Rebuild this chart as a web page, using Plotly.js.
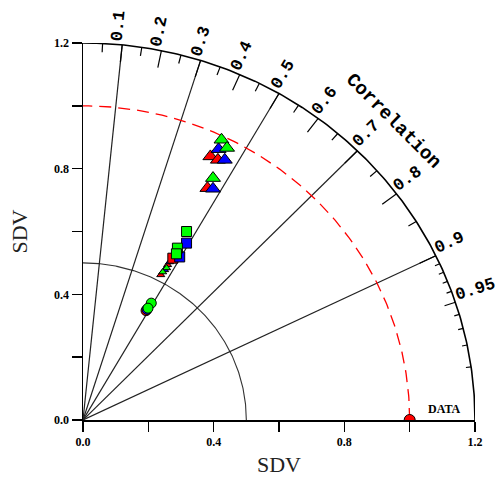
<!DOCTYPE html>
<html><head><meta charset="utf-8">
<script src="https://cdn.plot.ly/plotly-3.0.1.min.js"></script>
<style>html,body{margin:0;padding:0;background:#fff}#chart{width:500px;height:482px}</style>
</head><body><div id="chart"></div>
<script>
// ---- axis / tick data ----
const sdTickVals = [0, 0.2, 0.4, 0.6, 0.8, 1.0, 1.2];
const sdTickText = ['0.0', '', '0.4', '', '0.8', '', '1.2'];
const corrLabelVals = [0.1, 0.2, 0.3, 0.4, 0.5, 0.6, 0.7, 0.8, 0.9, 0.95];
const corrLabelText = ['0.1', '0.2', '0.3', '0.4', '0.5', '0.6', '0.7', '0.8', '0.9', '0.95'];
const corrRadialLines = [0.1, 0.3, 0.5, 0.7, 0.9];
const corrMajorTicks = [0.1, 0.2, 0.3, 0.4, 0.5, 0.6, 0.7, 0.8, 0.9];
const corrMinorTicks = [0.05, 0.15, 0.25, 0.35, 0.45, 0.55, 0.65, 0.75, 0.85];
const corrFineTicks = [0.91, 0.92, 0.93, 0.94, 0.96, 0.97, 0.98, 0.99];
const corrMidTicks = [0.95];
const sdMax = 1.2;
const refSD = 1.0;
const innerSD = 0.5;
const refPointX = [1.0];
const refPointY = [0.0];
const refLabel = 'DATA';
const corrTitle = 'Correlation';
const corrTitleR = 1.345;
const corrTitleCorr = 0.706;

// ---- model points (x = SD*cos, y = SD*sin) ----
const triRedX = [0.390, 0.413, 0.381];
const triRedY = [0.839, 0.828, 0.738];
const triBlueX = [0.415, 0.434, 0.398];
const triBlueY = [0.862, 0.828, 0.736];
const triGreenX = [0.424, 0.441, 0.398];
const triGreenY = [0.892, 0.866, 0.770];
const sqRedX = [0.275];
const sqRedY = [0.515];
const sqBlueX = [0.317, 0.296];
const sqBlueY = [0.563, 0.519];
const sqGreenX = [0.317, 0.289, 0.286];
const sqGreenY = [0.600, 0.547, 0.529];
const smRedX = [0.259, 0.238];
const smRedY = [0.494, 0.462];
const smBlueX = [0.265, 0.250];
const smBlueY = [0.503, 0.478];
const smGreenX = [0.256, 0.244];
const smGreenY = [0.484, 0.471];
const ciRedX = [0.193];
const ciRedY = [0.348];
const ciBlueX = [0.196];
const ciBlueY = [0.352];
const ciGreenX = [0.209, 0.199];
const ciGreenY = [0.372, 0.356];

// ---- helpers ----
function arc(r) {
  const x = [], y = [];
  for (let i = 0; i <= 180; i++) {
    const a = Math.PI / 2 * i / 180;
    x.push(r * Math.cos(a)); y.push(r * Math.sin(a));
  }
  return {x, y};
}
function sinOf(c) { return Math.sqrt(1 - c * c); }
function radialSegs(list, r0, r1) {
  const x = [], y = [];
  list.forEach(c => {
    const s = sinOf(c);
    x.push(r0 * c, r1 * c, null); y.push(r0 * s, r1 * s, null);
  });
  return {x, y};
}

const traces = [];
const outer = arc(sdMax), ref = arc(refSD), inner = arc(innerSD);
traces.push({x: inner.x, y: inner.y, mode: 'lines', line: {color: '#333', width: 1.1}, hoverinfo: 'skip'});
const rl = radialSegs(corrRadialLines, 0, sdMax);
traces.push({x: rl.x, y: rl.y, mode: 'lines', line: {color: '#222', width: 1.2}, hoverinfo: 'skip'});
traces.push({x: ref.x, y: ref.y, mode: 'lines', line: {color: '#ff0000', width: 1.3, dash: '12px,7px'}, hoverinfo: 'skip'});
traces.push({x: outer.x, y: outer.y, mode: 'lines', line: {color: '#000', width: 1.6}, hoverinfo: 'skip'});
const tMaj = radialSegs(corrMajorTicks, sdMax - 0.055, sdMax);
const tMin = radialSegs(corrMinorTicks, sdMax - 0.028, sdMax);
const tFine = radialSegs(corrFineTicks, sdMax - 0.016, sdMax);
const tMid = radialSegs(corrMidTicks, sdMax - 0.035, sdMax);
[tMaj, tMin, tFine, tMid].forEach(t => traces.push({x: t.x, y: t.y, mode: 'lines', line: {color: '#000', width: 1.2}, hoverinfo: 'skip'}));

function pts(x, y, sym, col, size) {
  return {x, y, mode: 'markers', marker: {symbol: sym, color: col, size, line: {color: '#000', width: 1}}, hoverinfo: 'skip'};
}
traces.push(pts(ciRedX, ciRedY, 'circle', '#ff0000', 10));
traces.push(pts(ciBlueX, ciBlueY, 'circle', '#0000ff', 10));
traces.push(pts(ciGreenX, ciGreenY, 'circle', '#00ff00', 10));
traces.push(pts(smRedX, smRedY, 'triangle-up', '#ff0000', 7));
traces.push(pts(smBlueX, smBlueY, 'triangle-up', '#0000ff', 7));
traces.push(pts(smGreenX, smGreenY, 'triangle-up', '#00ff00', 7));
traces.push(pts(sqRedX, sqRedY, 'square', '#ff0000', 10));
traces.push(pts(sqBlueX, sqBlueY, 'square', '#0000ff', 10));
traces.push(pts(sqGreenX, sqGreenY, 'square', '#00ff00', 10));
traces.push(pts(triRedX, triRedY, 'triangle-up', '#ff0000', 13));
traces.push(pts(triBlueX, triBlueY, 'triangle-up', '#0000ff', 13));
traces.push(pts(triGreenX, triGreenY, 'triangle-up', '#00ff00', 13));
traces.push(pts(refPointX, refPointY, 'circle', '#ff0000', 11));

// ---- layout ----
const M = {l: 83, r: 25, t: 43, b: 62};
const W = 500, H = 482;
const sx = (W - M.l - M.r) / sdMax, sy = (H - M.t - M.b) / sdMax;
const annotations = [];
const labFont = {family: 'Liberation Mono', size: 17, color: '#000', weight: 'bold'};
corrLabelVals.forEach((c, i) => {
  const s = sinOf(c);
  const px = c * sx, py = s * sy, n = Math.hypot(px, py);
  const ux = px / n, uy = py / n;
  const L = corrLabelText[i].length * 10.2;
  const d = 3 + L / 2, perp = 6;
  annotations.push({
    x: sdMax * c, y: sdMax * s, xref: 'x', yref: 'y', text: corrLabelText[i], showarrow: false,
    xanchor: 'center', yanchor: 'middle', textangle: -Math.atan2(uy, ux) * 180 / Math.PI,
    xshift: ux * d - uy * perp, yshift: uy * d + ux * perp, font: labFont
  });
});
annotations.push({
  x: corrTitleR * corrTitleCorr, y: corrTitleR * sinOf(corrTitleCorr), xref: 'x', yref: 'y',
  text: corrTitle, showarrow: false, xanchor: 'center', yanchor: 'middle', textangle: 45,
  font: {family: 'Liberation Mono', size: 19, color: '#000', weight: 'bold'}
});
annotations.push({
  x: refPointX[0], y: refPointY[0], xref: 'x', yref: 'y', text: refLabel, showarrow: false,
  xanchor: 'left', yanchor: 'bottom', xshift: 16, yshift: 2,
  font: {family: 'Liberation Serif', size: 12, color: '#000', weight: 'bold'}
});

const axisBase = {
  range: [0, sdMax], tickmode: 'array', tickvals: sdTickVals, ticktext: sdTickText,
  ticks: 'outside', ticklen: 10, tickwidth: 1.5, tickcolor: '#000',
  showline: true, linecolor: '#000', linewidth: 1.5, showgrid: false, zeroline: false,
  tickfont: {family: 'Liberation Serif', size: 12, color: '#000', weight: 'bold'}, fixedrange: true
};
const layout = {
  width: W, height: H, margin: M, showlegend: false,
  paper_bgcolor: '#fff', plot_bgcolor: '#fff',
  xaxis: Object.assign({}, axisBase, {title: {text: 'SDV', font: {family: 'Liberation Serif', size: 22, color: '#222'}, standoff: 8}}),
  yaxis: Object.assign({}, axisBase, {title: {text: 'SDV', font: {family: 'Liberation Serif', size: 22, color: '#222'}, standoff: 20}}),
  annotations
};
Plotly.newPlot('chart', traces, layout, {staticPlot: true, displayModeBar: false});
</script></body></html>
